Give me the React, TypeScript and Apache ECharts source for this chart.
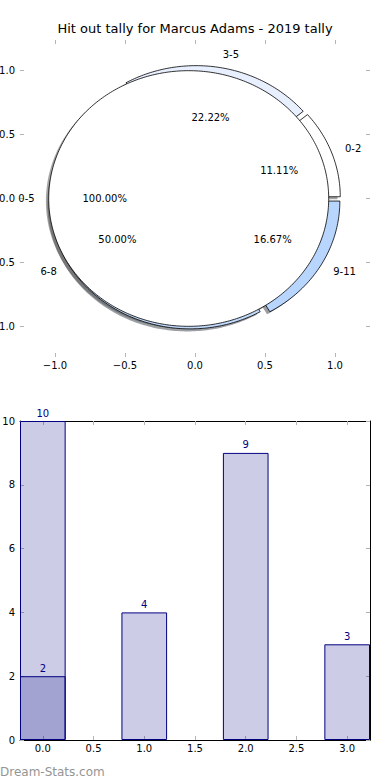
import React, { useEffect, useRef } from 'react';
import * as echarts from 'echarts';

const TITLE = 'Hit out tally for Marcus Adams - 2019 tally';
const WATERMARK = 'Dream-Stats.com';

// Outer pie (age groups)
const ringLabels = ['0-2', '3-5', '6-8', '9-11'];
const ringValues = [2, 4, 9, 3];
const ringColors = ['#ffffff', '#e8efff', '#c2dafc', '#b7d5fd'];
const ringExplode = 0.04;

// Inner pie (total)
const coreLabels = ['0-5'];
const coreValues = [10];
const coreColors = ['#ffffff'];
const coreExplode = 0.045;

const pieTicks = [-1, -0.5, 0, 0.5, 1];

// Bar chart
const totalPositions = [0];
const totalValues = [10];
const barPositions = [0, 1, 2, 3];
const barValues = [2, 4, 9, 3];
const barXTicks = [0, 0.5, 1, 1.5, 2, 2.5, 3];

const FONT = 'DejaVu Sans';
const TICK_COLOR = '#b4b4b4';
const NAVY = '#000080';

type Slice = {
  label: string;
  value: number;
  color: string;
  t1: number;
  t2: number;
  mid: number;
  cx: number;
  cy: number;
  pct: number;
};

function buildSlices(labels: string[], values: number[], colors: string[], explode: number): Slice[] {
  const total = values.reduce((a, b) => a + b, 0);
  let start = 0;
  return values.map((v, i) => {
    const span = (v / total) * 360;
    const t1 = start;
    const t2 = start + span;
    start = t2;
    const mid = ((t1 + t2) / 2) * Math.PI / 180;
    return {
      label: labels[i],
      value: v,
      color: colors[i],
      t1,
      t2,
      mid,
      cx: explode * Math.cos(mid),
      cy: explode * Math.sin(mid),
      pct: (v / total) * 100,
    };
  });
}

function shadowColor(hex: string) {
  const h = hex.replace('#', '');
  const r = parseInt(h.slice(0, 2), 16);
  const g = parseInt(h.slice(2, 4), 16);
  const b = parseInt(h.slice(4, 6), 16);
  return `rgba(${Math.round(r * 0.3)},${Math.round(g * 0.3)},${Math.round(b * 0.3)},0.5)`;
}

function wedgePoints(s: Slice, dx: number, dy: number, api: any) {
  const pts: number[][] = [];
  const full = s.t2 - s.t1 >= 359.999;
  if (!full) pts.push(api.coord([s.cx + dx, s.cy + dy]));
  const n = Math.max(4, Math.ceil(s.t2 - s.t1));
  for (let k = 0; k <= n; k++) {
    const a = (s.t1 + ((s.t2 - s.t1) * k) / n) * Math.PI / 180;
    pts.push(api.coord([s.cx + dx + Math.cos(a), s.cy + dy + Math.sin(a)]));
  }
  return pts;
}

const fmtSigned = (v: number) => (v < 0 ? '\u2212' : '') + Math.abs(v).toFixed(1);

export default function App() {
  const ref = useRef<HTMLDivElement>(null);

  useEffect(() => {
    if (!ref.current) return;
    const chart = echarts.init(ref.current, undefined, { renderer: 'svg' });

    const ring = buildSlices(ringLabels, ringValues, ringColors, ringExplode);
    const core = buildSlices(coreLabels, coreValues, coreColors, coreExplode);
    const all = [...ring, ...core];

    const barPxPerUnit = 350 / 3.45;
    const barWidth = 0.45 * barPxPerUnit;

    const tickStyle = { show: true, inside: true, length: 4, lineStyle: { color: TICK_COLOR, width: 1 } };
    const labelStyle = { color: '#000', fontSize: 10, fontFamily: FONT };

    const pieX = {
      type: 'value', gridIndex: 0, min: -1.25, max: 1.25,
      axisLine: { show: false, onZero: false },
      splitLine: { show: false },
    };
    const pieY = {
      type: 'value', gridIndex: 0, min: -1.24, max: 1.24,
      axisLine: { show: false, onZero: false },
      splitLine: { show: false },
    };
    const barX = {
      type: 'value', gridIndex: 1, min: -0.225, max: 3.225,
      axisLine: { show: true, onZero: false, lineStyle: { color: '#000', width: 1 } },
      splitLine: { show: false },
    };
    const barY = {
      type: 'value', gridIndex: 1, min: 0, max: 10, interval: 2,
      axisLine: { show: true, onZero: false, lineStyle: { color: '#000', width: 1 } },
      splitLine: { show: false },
    };

    const option: any = {
      animation: false,
      backgroundColor: '#fff',
      title: {
        text: TITLE,
        left: 'center',
        top: 22,
        padding: 0,
        textStyle: { fontSize: 13, fontWeight: 'normal', color: '#000', fontFamily: FONT },
      },
      grid: [
        { left: 20, width: 350, top: 40, height: 317, containLabel: false, outerBoundsMode: 'none' },
        { left: 20, width: 350, top: 421, height: 319, containLabel: false, outerBoundsMode: 'none' },
      ],
      xAxis: [
        {
          ...pieX, position: 'bottom',
          axisTick: { ...tickStyle, customValues: pieTicks },
          axisLabel: { ...labelStyle, margin: 3, customValues: pieTicks, formatter: fmtSigned },
        },
        {
          ...pieX, position: 'top',
          axisTick: { ...tickStyle, customValues: pieTicks },
          axisLabel: { show: false },
        },
        {
          ...barX, position: 'bottom',
          axisTick: { ...tickStyle, customValues: barXTicks },
          axisLabel: { ...labelStyle, margin: 3, customValues: barXTicks, formatter: (v: number) => v.toFixed(1) },
        },
        {
          ...barX, position: 'top',
          axisTick: { ...tickStyle, customValues: barXTicks },
          axisLabel: { show: false },
        },
      ],
      yAxis: [
        {
          ...pieY, position: 'left',
          axisTick: { ...tickStyle, customValues: pieTicks },
          axisLabel: { ...labelStyle, margin: 5, customValues: pieTicks, formatter: fmtSigned },
        },
        {
          ...pieY, position: 'right',
          axisTick: { ...tickStyle, customValues: pieTicks },
          axisLabel: { show: false },
        },
        {
          ...barY, position: 'left',
          axisTick: tickStyle,
          axisLabel: { ...labelStyle, margin: 5 },
        },
        {
          ...barY, position: 'right',
          axisTick: tickStyle,
          axisLabel: { show: false },
        },
      ],
      series: [
        // shadows
        {
          type: 'custom', xAxisIndex: 0, yAxisIndex: 0, silent: true, clip: false, z: 1,
          data: all.map((s) => [s.cx, s.cy, s.value]),
          renderItem: (params: any, api: any) => {
            const s = all[params.dataIndex];
            return {
              type: 'polygon',
              shape: { points: wedgePoints(s, -0.02, -0.02, api) },
              style: { fill: shadowColor(s.color), stroke: 'none' },
            };
          },
        },
        // outer wedges
        {
          type: 'custom', xAxisIndex: 0, yAxisIndex: 0, silent: true, clip: false, z: 2,
          data: ring.map((s) => [s.cx, s.cy, s.value]),
          renderItem: (params: any, api: any) => {
            const s = ring[params.dataIndex];
            return {
              type: 'polygon',
              shape: { points: wedgePoints(s, 0, 0, api) },
              style: { fill: s.color, stroke: '#000', lineWidth: 0.8 },
            };
          },
        },
        // inner wedge
        {
          type: 'custom', xAxisIndex: 0, yAxisIndex: 0, silent: true, clip: false, z: 3,
          data: core.map((s) => [s.cx, s.cy, s.value]),
          renderItem: (params: any, api: any) => {
            const s = core[params.dataIndex];
            return {
              type: 'polygon',
              shape: { points: wedgePoints(s, 0, 0, api) },
              style: { fill: s.color, stroke: '#000', lineWidth: 0.8 },
            };
          },
        },
        // labels
        {
          type: 'custom', xAxisIndex: 0, yAxisIndex: 0, silent: true, clip: false, z: 4,
          data: all.map((s) => [s.cx, s.cy, s.value]),
          renderItem: (params: any, api: any) => {
            const s = all[params.dataIndex];
            const lx = s.cx + 1.1 * Math.cos(s.mid);
            const ly = s.cy + 1.1 * Math.sin(s.mid);
            const px = s.cx + 0.6 * Math.cos(s.mid);
            const py = s.cy + 0.6 * Math.sin(s.mid);
            const lp = api.coord([lx, ly]);
            const pp = api.coord([px, py]);
            return {
              type: 'group',
              children: [
                {
                  type: 'text', x: lp[0], y: lp[1],
                  style: {
                    text: s.label, fill: '#000', font: `10px "${FONT}"`,
                    align: lx > 0 ? 'left' : 'right', verticalAlign: 'middle',
                  },
                },
                {
                  type: 'text', x: pp[0], y: pp[1],
                  style: {
                    text: s.pct.toFixed(2) + '%', fill: '#000', font: `10px "${FONT}"`,
                    align: 'center', verticalAlign: 'middle',
                  },
                },
              ],
            };
          },
        },
        // bars: total
        {
          type: 'bar', xAxisIndex: 2, yAxisIndex: 2, barWidth, barGap: '-100%',
          data: totalPositions.map((x, i) => [x, totalValues[i]]),
          itemStyle: { color: 'rgba(0,0,128,0.2)', borderColor: NAVY, borderWidth: 1 },
          label: {
            show: true, position: 'top', distance: 3, color: NAVY, fontSize: 10, fontFamily: FONT,
            formatter: (p: any) => String(p.value[1]),
          },
          silent: true,
        },
        // bars: groups
        {
          type: 'bar', xAxisIndex: 2, yAxisIndex: 2, barWidth, barGap: '-100%',
          data: barPositions.map((x, i) => [x, barValues[i]]),
          itemStyle: { color: 'rgba(0,0,128,0.2)', borderColor: NAVY, borderWidth: 1 },
          label: {
            show: true, position: 'top', distance: 3, color: NAVY, fontSize: 10, fontFamily: FONT,
            formatter: (p: any) => String(p.value[1]),
          },
          silent: true,
        },
      ],
      graphic: [
        {
          type: 'text', x: 0, y: 772,
          style: { text: WATERMARK, fill: '#959595', font: `12px "${FONT}"`, verticalAlign: 'middle' },
        },
      ],
    };

    chart.setOption(option);
    return () => chart.dispose();
  }, []);

  return (
    <div
      ref={ref}
      style={{ position: 'fixed', left: 0, top: 0, width: 390, height: 780, background: '#fff' }}
    />
  );
}
